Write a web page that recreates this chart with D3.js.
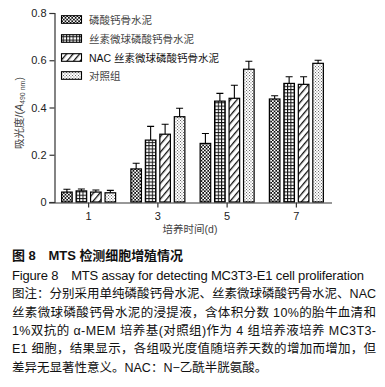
<!DOCTYPE html>
<html><head><meta charset="utf-8">
<script src="https://cdn.jsdelivr.net/npm/d3@7"></script>
<style>
html,body{margin:0;padding:0;background:#fff;}
svg{display:block;}
text{font-family:"Liberation Sans",Arial,"Noto Sans CJK SC",sans-serif;}
.cjk{font-family:"Liberation Sans","Noto Sans CJK SC",sans-serif;}
</style></head>
<body>
<script>
const days = ["1", "3", "5", "7"];
const seriesNames = ["磷酸钙骨水泥", "丝素微球磷酸钙骨水泥", "NAC 丝素微球磷酸钙骨水泥", "对照组"];
const cpcValues = [0.042, 0.140, 0.248, 0.436];
const cpcErrors = [0.012, 0.024, 0.042, 0.014];
const silkValues = [0.047, 0.262, 0.427, 0.502];
const silkErrors = [0.008, 0.058, 0.033, 0.028];
const nacValues = [0.042, 0.287, 0.439, 0.498];
const nacErrors = [0.009, 0.042, 0.055, 0.032];
const ctrlValues = [0.039, 0.361, 0.562, 0.587];
const ctrlErrors = [0.010, 0.036, 0.034, 0.013];
const yTicks = [0, 0.2, 0.4, 0.6, 0.8];
const yTickLabels = ["0", "0.2", "0.4", "0.6", "0.8"];
const captionLines = [
  "图 8　MTS 检测细胞增殖情况",
  "Figure 8　MTS assay for detecting MC3T3-E1 cell proliferation",
  "图注：分别采用单纯磷酸钙骨水泥、丝素微球磷酸钙骨水泥、NAC",
  "丝素微球磷酸钙骨水泥的浸提液，含体积分数 10%的胎牛血清和",
  "1%双抗的 α-MEM 培养基(对照组)作为 4 组培养液培养 MC3T3-",
  "E1 细胞，结果显示，各组吸光度值随培养天数的增加而增加，但",
  "差异无显著性意义。NAC：N−乙酰半胱氨酸。"
];

const allValues = [cpcValues, silkValues, nacValues, ctrlValues];
const allErrors = [cpcErrors, silkErrors, nacErrors, ctrlErrors];
const patterns = ["pChecker", "pGrid", "pDiag", "pDots"];

const W = 385, H = 387;
const svg = d3.select("body").append("svg").attr("width", W).attr("height", H);
svg.append("rect").attr("width", W).attr("height", H).attr("fill", "#fff");

// patterns
const defs = svg.append("defs");
{
  const p = defs.append("pattern").attr("id", "pChecker").attr("patternUnits", "userSpaceOnUse")
    .attr("width", 3.4).attr("height", 3.4);
  p.append("rect").attr("width", 3.4).attr("height", 3.4).attr("fill", "#fff");
  p.append("rect").attr("width", 1.7).attr("height", 1.7).attr("fill", "#111");
  p.append("rect").attr("x", 1.7).attr("y", 1.7).attr("width", 1.7).attr("height", 1.7).attr("fill", "#111");
}
{
  const p = defs.append("pattern").attr("id", "pGrid").attr("patternUnits", "userSpaceOnUse")
    .attr("width", 3.3).attr("height", 3.3);
  p.append("rect").attr("width", 3.3).attr("height", 3.3).attr("fill", "#fff");
  p.append("rect").attr("width", 3.3).attr("height", 1).attr("fill", "#111");
  p.append("rect").attr("width", 1).attr("height", 3.3).attr("fill", "#111");
}
{
  const p = defs.append("pattern").attr("id", "pDiag").attr("patternUnits", "userSpaceOnUse")
    .attr("width", 5).attr("height", 5).attr("patternTransform", "rotate(40)");
  p.append("rect").attr("width", 5).attr("height", 5).attr("fill", "#fff");
  p.append("rect").attr("width", 1.3).attr("height", 5).attr("fill", "#111");
}
{
  const p = defs.append("pattern").attr("id", "pDots").attr("patternUnits", "userSpaceOnUse")
    .attr("width", 3).attr("height", 3);
  p.append("rect").attr("width", 3).attr("height", 3).attr("fill", "#fff");
  p.append("rect").attr("x", 0).attr("y", 0).attr("width", 0.9).attr("height", 0.9).attr("fill", "#444");
  p.append("rect").attr("x", 1.5).attr("y", 1.5).attr("width", 0.9).attr("height", 0.9).attr("fill", "#444");
}

// scales
const x = d3.scaleBand().domain(days).range([54, 331]).paddingInner(0).paddingOuter(0);
const y = d3.scaleLinear().domain([0, 0.8]).range([202, 13]);
const inner = d3.scaleBand().domain(d3.range(4)).range([-27, 27]).paddingInner(0.27).paddingOuter(0);

// bars
const g = svg.append("g");
allValues.forEach((vals, si) => {
  const sg = g.append("g");
  sg.selectAll("rect").data(days).join("rect")
    .attr("x", d => x(d) + x.bandwidth() / 2 + inner(si))
    .attr("y", (d, i) => y(vals[i]))
    .attr("width", inner.bandwidth())
    .attr("height", (d, i) => y(0) - y(vals[i]))
    .attr("fill", `url(#${patterns[si]})`)
    .attr("stroke", "#000").attr("stroke-width", 1.2);
  // error bars
  sg.selectAll("path.err").data(days).join("path").attr("class", "err")
    .attr("d", (d, i) => {
      const cx = x(d) + x.bandwidth() / 2 + inner(si) + inner.bandwidth() / 2;
      const y0 = y(vals[i]), y1 = y(vals[i] + allErrors[si][i]);
      return `M${cx},${y0}V${y1}M${cx - 3.5},${y1}H${cx + 3.5}`;
    })
    .attr("stroke", "#000").attr("stroke-width", 1.1).attr("fill", "none");
});

// axes
const yAxis = d3.axisLeft(y).tickValues(yTicks).tickFormat((d, i) => yTickLabels[i]).tickSizeOuter(0).tickSize(5).tickPadding(3);
const ya = svg.append("g").attr("transform", "translate(54.5,0)").call(yAxis);
ya.select(".domain").attr("stroke", "#333").attr("stroke-width", 1.2);
ya.selectAll(".tick line").attr("stroke", "#333").attr("stroke-width", 1.2);
ya.selectAll(".tick text").attr("font-size", 11).attr("fill", "#222")
  .attr("font-family", "'Liberation Sans', Arial, sans-serif");

const xAxis = d3.axisBottom(x).tickSizeOuter(0).tickSize(5).tickPadding(5);
const xa = svg.append("g").attr("transform", "translate(0,202.5)").call(xAxis);
xa.select(".domain").attr("d", "M49,0.5H332").attr("stroke", "#333").attr("stroke-width", 1.2);
xa.selectAll(".tick line").attr("stroke", "#333").attr("stroke-width", 1.2);
xa.selectAll(".tick text").attr("font-size", 11).attr("fill", "#222")
  .attr("font-family", "'Liberation Sans', Arial, sans-serif");

// axis titles
svg.append("text").attr("class", "cjk").attr("x", 190).attr("y", 233).attr("text-anchor", "middle")
  .attr("font-size", 10.5).attr("fill", "#444").text("培养时间(d)");

const yl = svg.append("text").attr("class", "cjk").attr("transform", "translate(23,113) rotate(-90)")
  .attr("text-anchor", "middle").attr("font-size", 10.5).attr("fill", "#444");
yl.append("tspan").text("吸光度/(");
yl.append("tspan").attr("font-style", "italic").text("A");
yl.append("tspan").attr("font-size", 7).attr("dy", 2).text("490 nm");
yl.append("tspan").attr("dy", -2).text(")");

// legend
const leg = svg.append("g");
const legY = [19.5, 38.5, 57.5, 75.5];
seriesNames.forEach((name, i) => {
  leg.append("rect").attr("x", 61.5).attr("y", legY[i] - 3.8).attr("width", 20).attr("height", 7.6)
    .attr("fill", `url(#${patterns[i]})`).attr("stroke", "#000").attr("stroke-width", 1.1);
  leg.append("text").attr("class", "cjk").attr("x", 89).attr("y", legY[i] + 4)
    .attr("font-size", 10.5).attr("fill", name.startsWith("NAC") ? "#111" : "#444").text(name);
});

// caption
const capY = [260, 280, 298, 316.5, 335, 353, 371.5];
const capLen = [171, 352, 364, 364, 364, 364, null];
captionLines.forEach((t, i) => {
  const tx = svg.append("text").attr("class", "cjk").attr("x", 12).attr("y", capY[i])
    .attr("font-size", i < 2 ? 13 : 12.5).attr("fill", "#111")
    .attr("font-weight", i === 0 ? "bold" : "normal").text(t);
  if (capLen[i]) tx.attr("textLength", capLen[i]).attr("lengthAdjust", "spacing");
});
</script>
</body></html>
